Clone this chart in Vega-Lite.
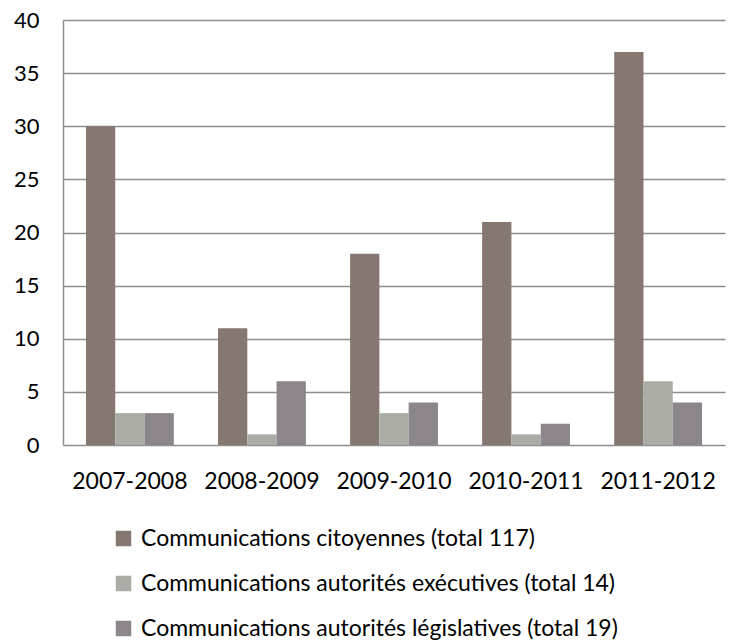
{
  "$schema": "https://vega.github.io/schema/vega-lite/v6.json",
  "width": 662,
  "height": 425,
  "autosize": {"type": "none"},
  "padding": {"left": 63, "top": 20, "right": 6, "bottom": 199},
  "background": "white",
  "config": {
    "font": "Lato",
    "view": {"stroke": null}
  },
  "data": {
    "values": [
      {"periode": "2007-2008", "serie": "Communications citoyennes (total 117)", "ordre": 1, "valeur": 30},
      {"periode": "2007-2008", "serie": "Communications autorités exécutives (total 14)", "ordre": 2, "valeur": 3},
      {"periode": "2007-2008", "serie": "Communications autorités législatives (total 19)", "ordre": 3, "valeur": 3},
      {"periode": "2008-2009", "serie": "Communications citoyennes (total 117)", "ordre": 1, "valeur": 11},
      {"periode": "2008-2009", "serie": "Communications autorités exécutives (total 14)", "ordre": 2, "valeur": 1},
      {"periode": "2008-2009", "serie": "Communications autorités législatives (total 19)", "ordre": 3, "valeur": 6},
      {"periode": "2009-2010", "serie": "Communications citoyennes (total 117)", "ordre": 1, "valeur": 18},
      {"periode": "2009-2010", "serie": "Communications autorités exécutives (total 14)", "ordre": 2, "valeur": 3},
      {"periode": "2009-2010", "serie": "Communications autorités législatives (total 19)", "ordre": 3, "valeur": 4},
      {"periode": "2010-2011", "serie": "Communications citoyennes (total 117)", "ordre": 1, "valeur": 21},
      {"periode": "2010-2011", "serie": "Communications autorités exécutives (total 14)", "ordre": 2, "valeur": 1},
      {"periode": "2010-2011", "serie": "Communications autorités législatives (total 19)", "ordre": 3, "valeur": 2},
      {"periode": "2011-2012", "serie": "Communications citoyennes (total 117)", "ordre": 1, "valeur": 37},
      {"periode": "2011-2012", "serie": "Communications autorités exécutives (total 14)", "ordre": 2, "valeur": 6},
      {"periode": "2011-2012", "serie": "Communications autorités législatives (total 19)", "ordre": 3, "valeur": 4}
    ]
  },
  "mark": {"type": "bar"},
  "encoding": {
    "x": {
      "field": "periode",
      "type": "nominal",
      "scale": {"paddingInner": 0.335, "paddingOuter": 0.174},
      "axis": {
        "title": null,
        "labelAngle": 0,
        "labelFontSize": 23,
        "labelColor": "#000000",
        "labelPadding": 25,
        "ticks": false,
        "domain": false
      }
    },
    "xOffset": {
      "field": "serie",
      "type": "nominal",
      "sort": {"field": "ordre"},
      "scale": {"paddingInner": 0, "paddingOuter": 0}
    },
    "y": {
      "field": "valeur",
      "type": "quantitative",
      "scale": {"domain": [0, 40], "nice": false},
      "axis": {
        "title": null,
        "values": [0, 5, 10, 15, 20, 25, 30, 35, 40],
        "labelFontSize": 22,
        "labelColor": "#000000",
        "labelPadding": 24,
        "ticks": false,
        "domain": true,
        "domainColor": "#8e8e8e",
        "domainWidth": 1.5,
        "grid": true,
        "gridColor": "#8e8e8e",
        "gridWidth": 1.5
      }
    },
    "color": {
      "field": "serie",
      "type": "nominal",
      "sort": {"field": "ordre"},
      "scale": {"range": ["#857870", "#aaaca5", "#8c858b"]},
      "legend": {
        "title": null,
        "orient": "none",
        "legendX": 49,
        "legendY": 507,
        "direction": "vertical",
        "symbolType": "square",
        "symbolSize": 240,
        "symbolStrokeWidth": 0,
        "labelFontSize": 23,
        "labelColor": "#000000",
        "labelLimit": 700,
        "labelOffset": 6,
        "rowPadding": 21
      }
    }
  }
}
